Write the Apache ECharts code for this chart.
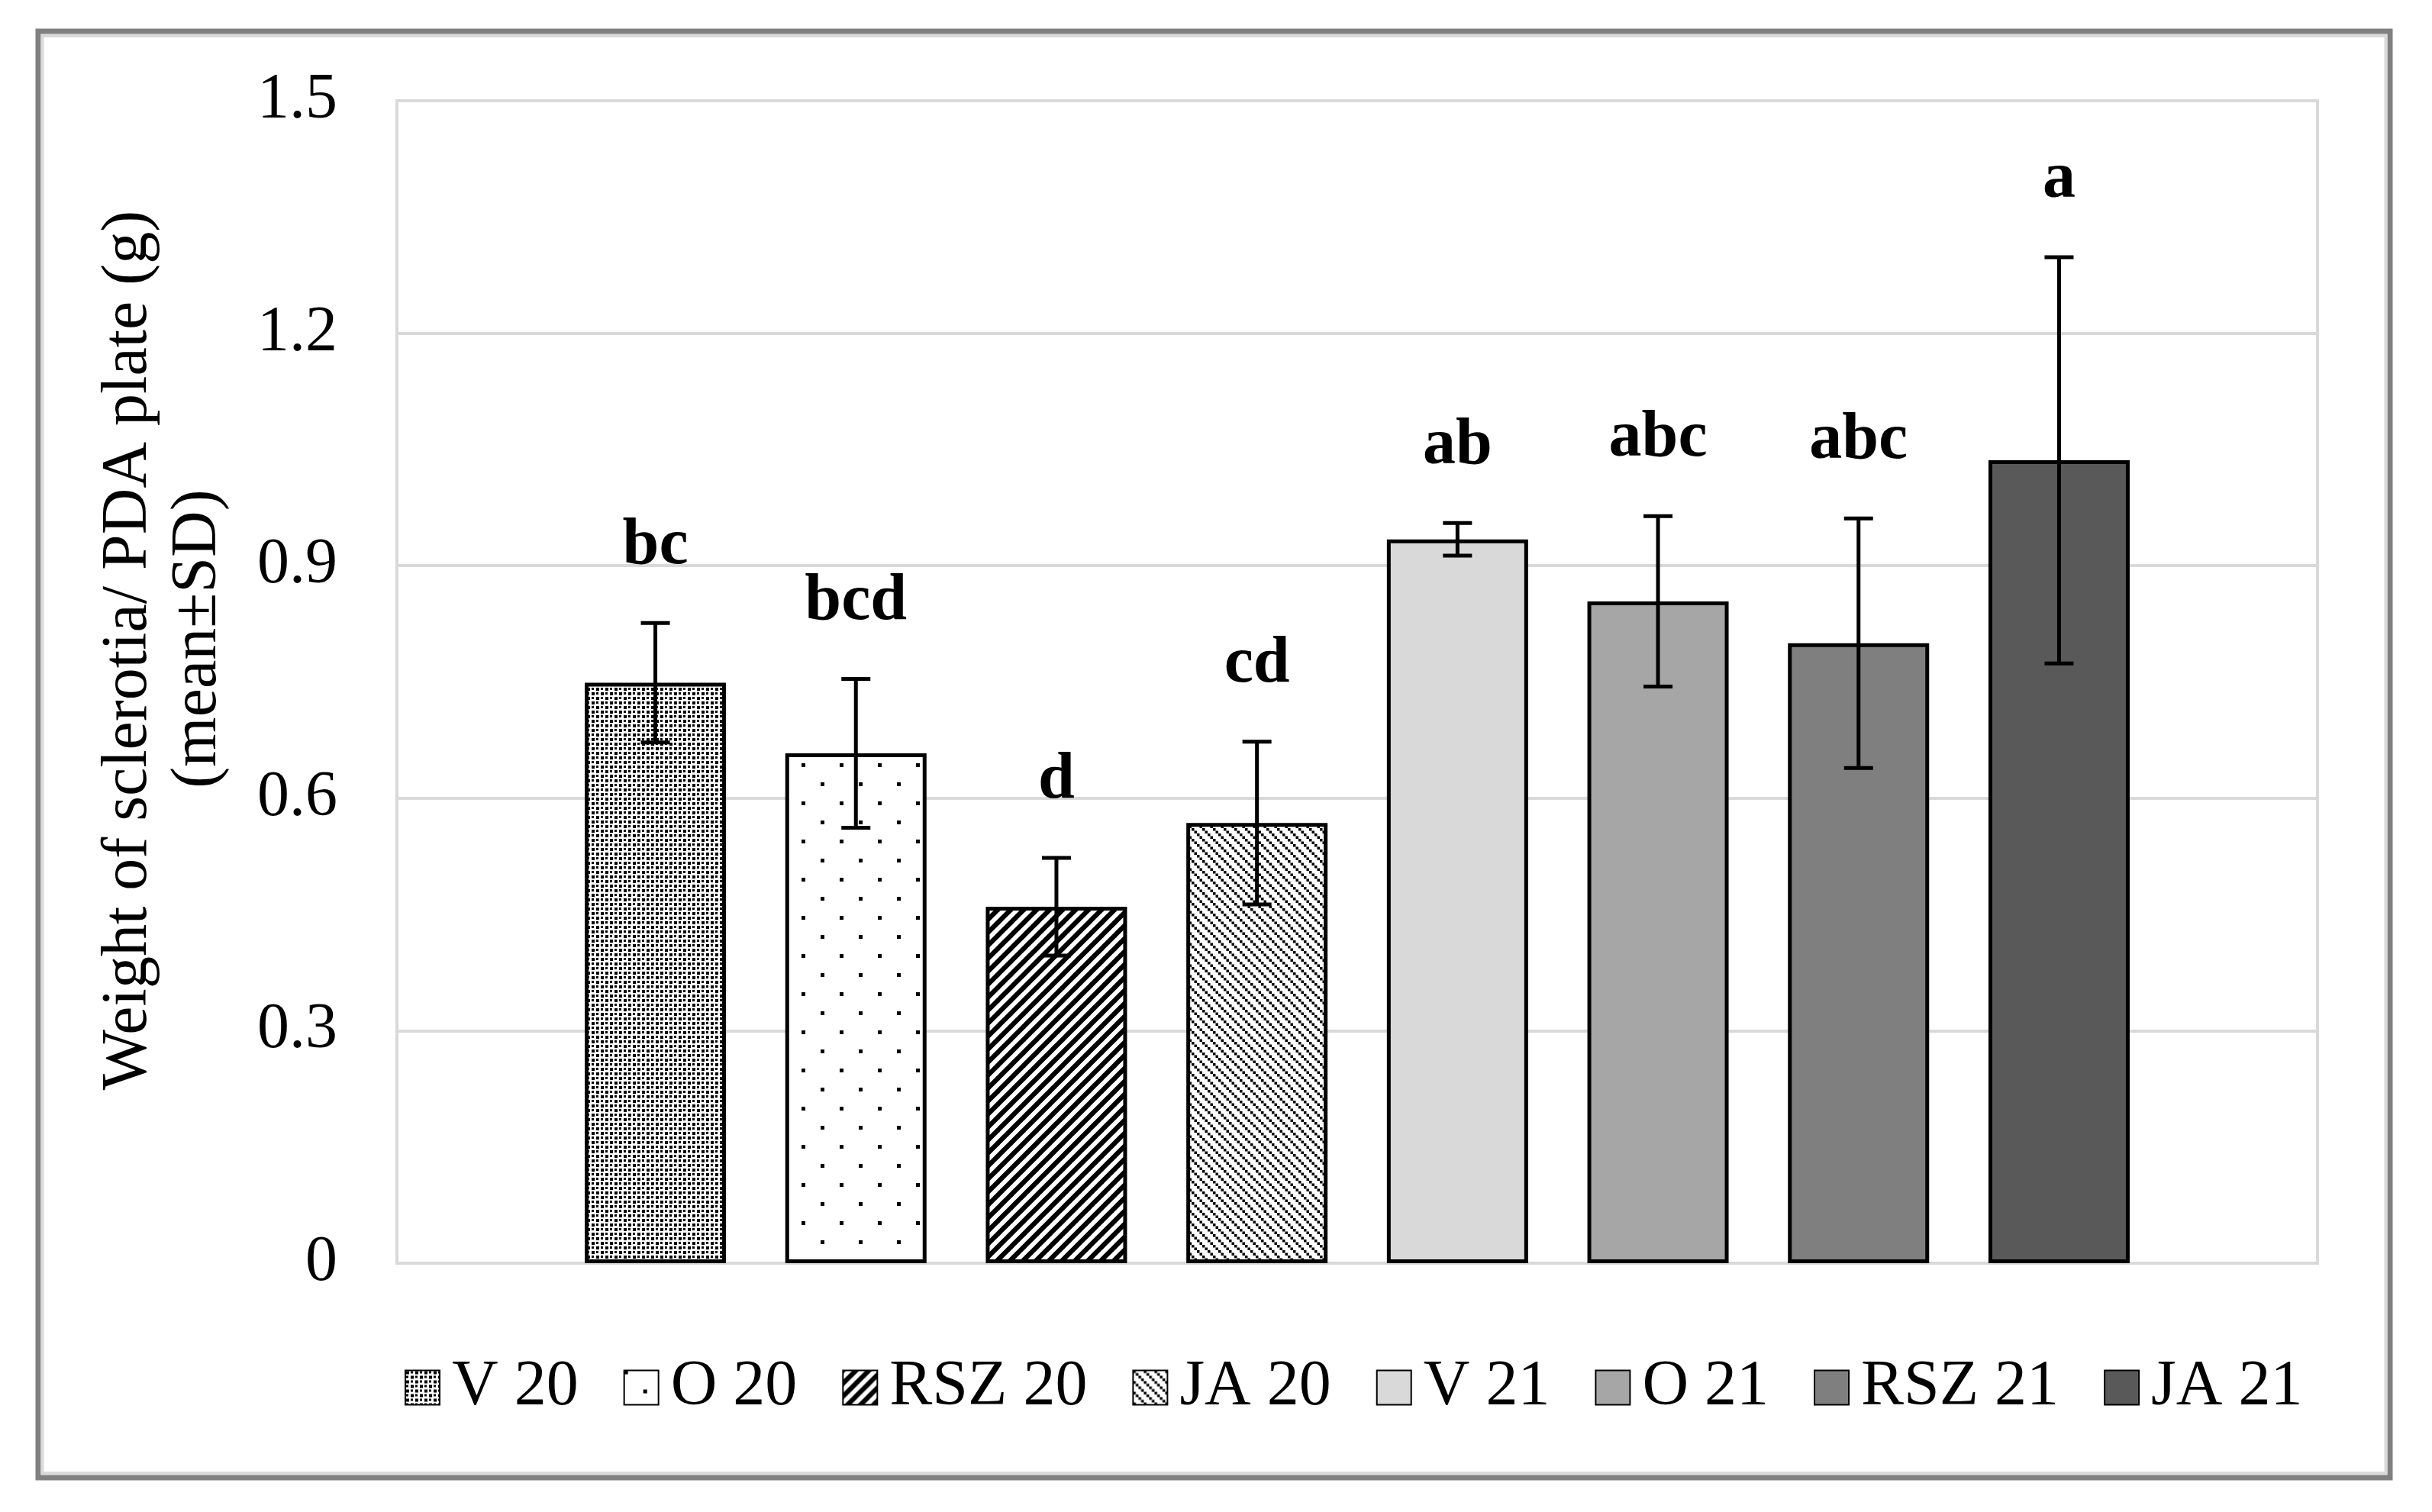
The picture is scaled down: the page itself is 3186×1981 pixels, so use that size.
<!DOCTYPE html>
<html><head><meta charset="utf-8">
<script src="https://cdn.jsdelivr.net/npm/echarts@6/dist/echarts.min.js"></script>
<style>html,body{margin:0;padding:0;background:#fff}#chart{width:3186px;height:1981px}</style>
</head><body><div id="chart"></div>
<script>
// ---- data ----
const SERIES_NAMES = ['V 20','O 20','RSZ 20','JA 20','V 21','O 21','RSZ 21','JA 21'];
const MEANS = [0.749, 0.658, 0.460, 0.568, 0.934, 0.854, 0.800, 1.036];
const SDS   = [0.077, 0.096, 0.063, 0.105, 0.021, 0.110, 0.161, 0.262];
const LETTERS = ['bc','bcd','d','cd','ab','abc','abc','a'];
const Y_TICKS = ['0','0.3','0.6','0.9','1.2','1.5'];
const Y_TITLE_1 = 'Weight of sclerotia/ PDA plate (g)';
const Y_TITLE_2 = '(mean±SD)';

// ---- style ----
const FONT = '"Liberation Serif", "Times New Roman", serif';
const BAR_W = 185;
const BAR_GAP = '42%';

function makeTile(w, h, draw) {
  const c = document.createElement('canvas');
  c.width = w; c.height = h;
  const g = c.getContext('2d');
  g.fillStyle = '#fff'; g.fillRect(0, 0, w, h);
  g.fillStyle = '#000'; g.strokeStyle = '#000';
  draw(g, w, h);
  return c;
}
const patDenseDots = makeTile(12, 12, g => { g.fillRect(1, 1, 4, 4); g.fillRect(7, 7, 4, 4); g.fillRect(7, 1, 3, 3); g.fillRect(1, 7, 3, 3); });
const patSparseDots = makeTile(50, 50, g => { g.fillRect(0, 0, 5, 5); g.fillRect(25, 25, 5, 5); });
const patWideUp = makeTile(17, 17, (g, w, h) => {
  g.lineWidth = w * 0.52 * Math.SQRT1_2;
  for (let k = -1; k <= 1; k++) { g.beginPath(); g.moveTo(k*w - w, 2*h); g.lineTo(k*w + 2*w, -h); g.stroke(); }
});
const patDashDown = makeTile(14, 14, g => {
  for (let i = 0; i < 4; i++) g.fillRect(i*3.5, i*3.5, 3.5, 3.5);
});

const FILLS = [
  {image: patDenseDots, repeat: 'repeat'},
  {image: patSparseDots, repeat: 'repeat'},
  {image: patWideUp, repeat: 'repeat'},
  {image: patDashDown, repeat: 'repeat'},
  '#d9d9d9', '#a6a6a6', '#7f7f7f', '#595959'
];

const chart = echarts.init(document.getElementById('chart'), null, {renderer: 'canvas'});

const barSeries = SERIES_NAMES.map((name, i) => ({
  type: 'bar', name: name, data: [MEANS[i]],
  barWidth: BAR_W, barGap: BAR_GAP,
  itemStyle: {color: FILLS[i], borderColor: '#000', borderWidth: 5},
  emphasis: {disabled: true}, z: 2
}));

const errSeries = {
  type: 'custom', silent: true, z: 5,
  data: MEANS.map((m, i) => [0, m, SDS[i], i]),
  encode: {x: 0, y: 1},
  renderItem: function (params, api) {
    const idx = api.value(3), m = api.value(1), sd = api.value(2);
    let off;
    if (api.barLayout) {
      const lay = api.barLayout({count: SERIES_NAMES.length, barWidth: BAR_W, barGap: BAR_GAP});
      off = lay[idx].offsetCenter;
    } else {
      const g = BAR_W * 0.42, tot = SERIES_NAMES.length * BAR_W + (SERIES_NAMES.length - 1) * g;
      off = -tot / 2 + idx * (BAR_W + g) + BAR_W / 2;
    }
    const base = api.coord([0, m]);
    const x = base[0] + off;
    const yT = api.coord([0, m + sd])[1];
    const yB = api.coord([0, m - sd])[1];
    const ls = {stroke: '#000', lineWidth: 5};
    return {type: 'group', children: [
      {type: 'line', shape: {x1: x, y1: yT, x2: x, y2: yB}, style: ls},
      {type: 'line', shape: {x1: x - 19, y1: yT, x2: x + 19, y2: yT}, style: ls},
      {type: 'line', shape: {x1: x - 19, y1: yB, x2: x + 19, y2: yB}, style: ls},
      {type: 'text', x: x, y: yT - 101, style: {text: LETTERS[params.dataIndex], font: 'bold 86px ' + FONT, fill: '#000', align: 'center', verticalAlign: 'middle'}}
    ]};
  }
};

chart.setOption({
  animation: false,
  backgroundColor: '#fff',
  grid: {left: 520, right: 150, top: 132, bottom: 326, show: true, borderColor: '#d9d9d9', borderWidth: 4, backgroundColor: 'transparent'},
  xAxis: {type: 'category', data: [''], axisLine: {show: false}, axisTick: {show: false}, axisLabel: {show: false}, splitLine: {show: false}},
  yAxis: {type: 'value', min: 0, max: 1.5, interval: 0.3,
    axisLine: {show: false}, axisTick: {show: false},
    splitLine: {lineStyle: {color: '#d9d9d9', width: 4}},
    axisLabel: {margin: 78, fontSize: 84, fontFamily: FONT, color: '#000',
      formatter: v => Y_TICKS[Math.round(v / 0.3)]}
  },
  legend: {data: SERIES_NAMES, left: 530, top: 1776, padding: 0, icon: 'rect', itemWidth: 45, itemHeight: 45, itemGap: 59,
    selectedMode: false, textStyle: {fontSize: 84, fontFamily: FONT, color: '#000', padding: [0, 0, 0, 11]}},
  graphic: [
    {type: 'rect', silent: true, shape: {x: 50, y: 41, width: 3081, height: 1895}, style: {fill: 'none', stroke: '#808080', lineWidth: 7}},
    {type: 'rect', silent: true, shape: {x: 55.5, y: 47, width: 3070, height: 1883}, style: {fill: 'none', stroke: '#d9d9d9', lineWidth: 4}},
    {type: 'text', silent: true, x: 169, y: 852, rotation: Math.PI / 2, style: {text: Y_TITLE_1, font: '84px ' + FONT, fill: '#000', align: 'center', verticalAlign: 'middle'}},
    {type: 'text', silent: true, x: 260, y: 837, rotation: Math.PI / 2, style: {text: Y_TITLE_2, font: '84px ' + FONT, fill: '#000', align: 'center', verticalAlign: 'middle'}}
  ],
  series: barSeries.concat([errSeries])
});
</script>
</body></html>
